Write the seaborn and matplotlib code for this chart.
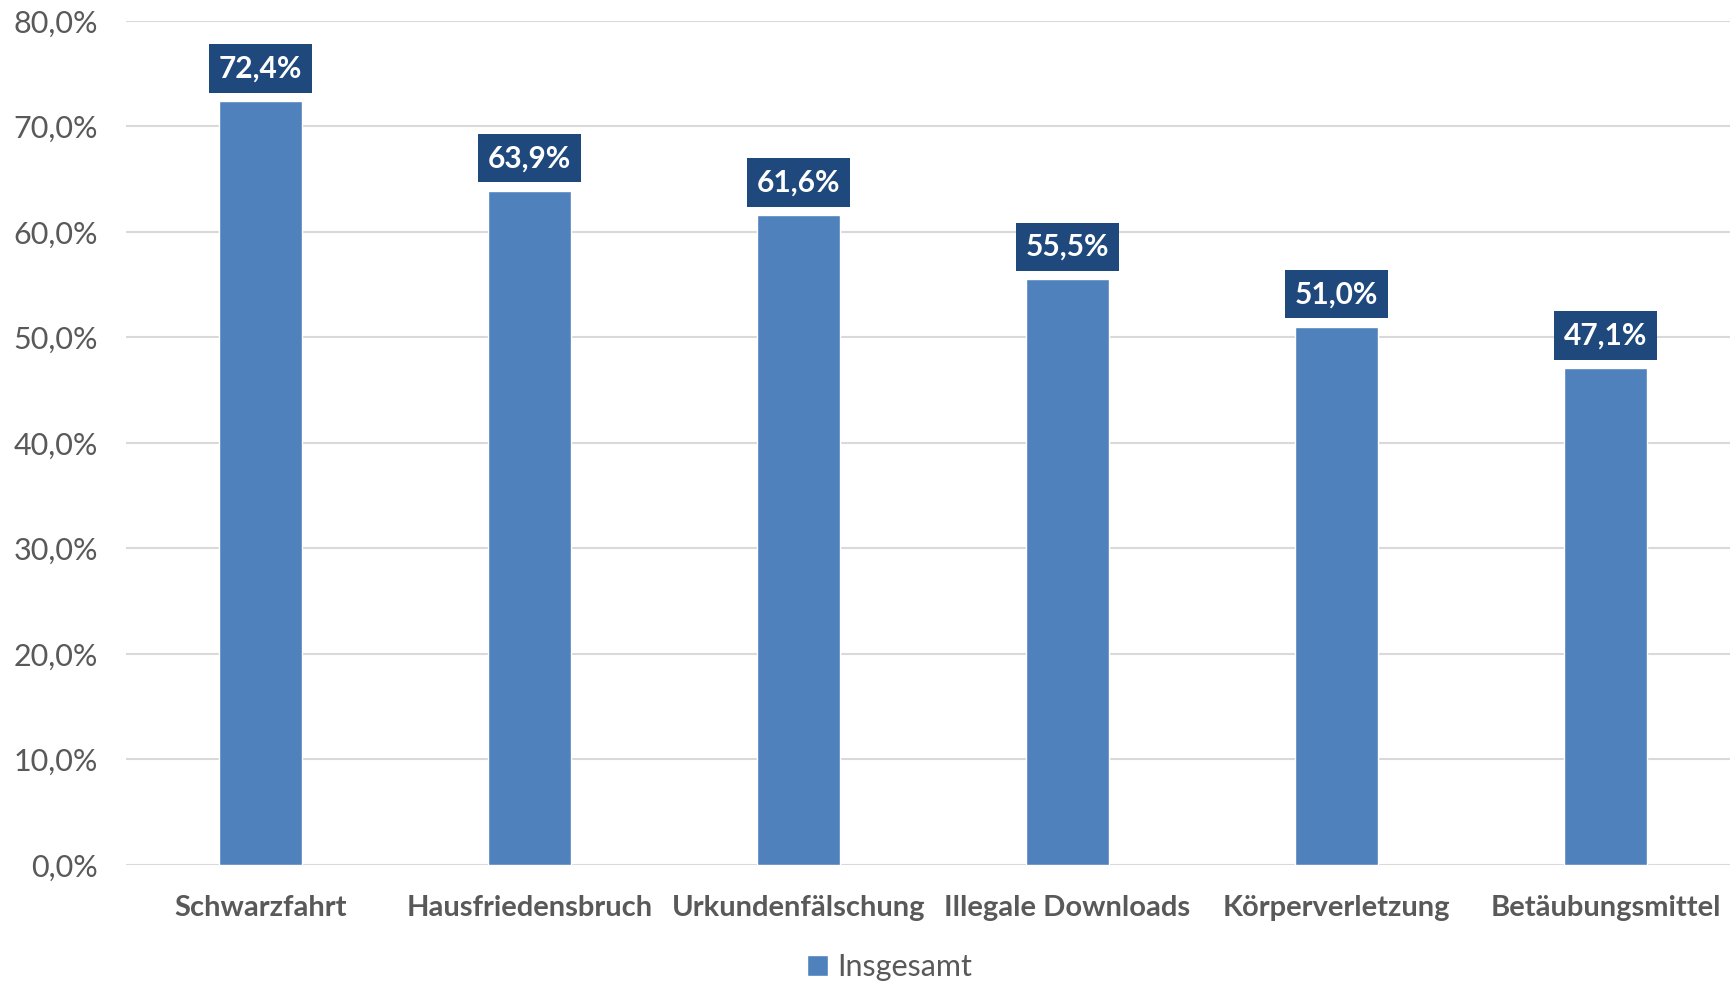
import matplotlib.pyplot as plt
import seaborn as sns
from matplotlib.ticker import FuncFormatter

# data
categories = ['Schwarzfahrt', 'Hausfriedensbruch', 'Urkundenfälschung',
              'Illegale Downloads', 'Körperverletzung', 'Betäubungsmittel']
values = [72.4, 63.9, 61.6, 55.5, 51.0, 47.1]
series_name = 'Insgesamt'

bar_color = '#4F81BD'
box_color = '#1F497D'
text_grey = '#595959'

sns.set_theme(style='white')
plt.rcParams['font.family'] = ['Lato', 'DejaVu Sans']

fig = plt.figure(figsize=(17.31, 9.84), dpi=100)
ax = fig.add_axes([0.0728, 0.121, 0.9324, 0.8577])

sns.barplot(x=categories, y=values, color=bar_color, width=0.31,
            saturation=1, label=series_name, ax=ax)

ax.set_ylim(0, 80)
ax.set_xlim(-0.5, 5.5)
ax.set_yticks(range(0, 81, 10))
ax.yaxis.set_major_formatter(FuncFormatter(lambda v, p: f'{v:.1f}'.replace('.', ',') + '%'))
ax.grid(axis='y', color='#D9D9D9', linewidth=1.5)
ax.set_axisbelow(True)
for s in ax.spines.values():
    s.set_visible(False)
ax.tick_params(axis='y', labelsize=22, labelcolor=text_grey, length=0, pad=20)
ax.tick_params(axis='x', labelsize=21, labelcolor=text_grey, length=0, pad=22)
for lab in ax.get_xticklabels():
    lab.set_fontweight('bold')
ax.set_xlabel('')
ax.set_ylabel('')

# value labels in dark boxes
for i, v in enumerate(values):
    ax.annotate(f'{v:.1f}'.replace('.', ',') + '%', xy=(i, v), xytext=(0, 23.5),
                textcoords='offset points', ha='center', va='center',
                fontsize=21.5, fontweight='bold', color='white',
                bbox=dict(boxstyle='square,pad=0.34', fc=box_color, ec='none'))

ax.legend().remove()
handles, labels = ax.get_legend_handles_labels()
fig.legend(handles, labels, loc='center', bbox_to_anchor=(0.514, 0.017),
           frameon=False, fontsize=22, labelcolor=text_grey,
           handlelength=0.7, handleheight=0.7, handletextpad=0.3)

fig.savefig('out.png', dpi=100)
